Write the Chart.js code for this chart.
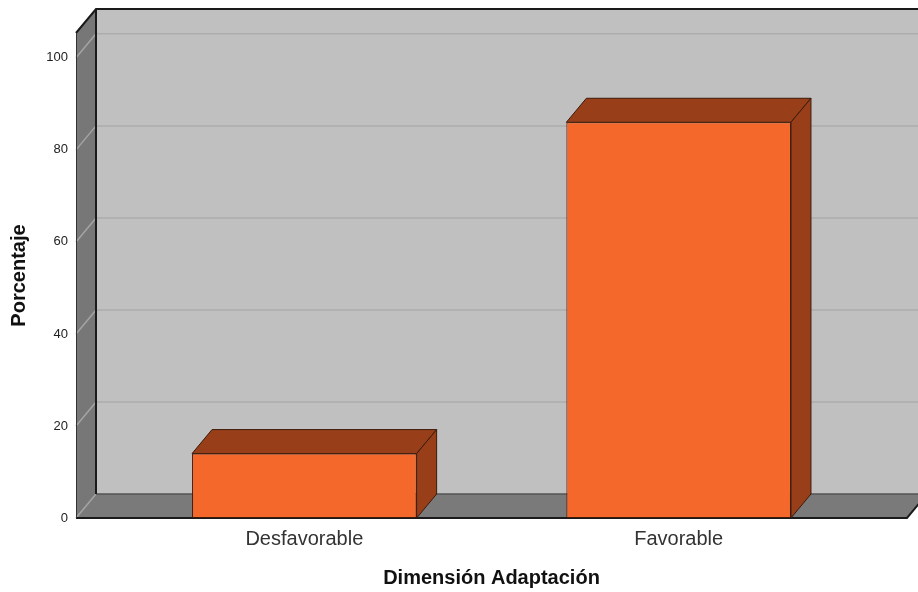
<!DOCTYPE html>
<html>
<head>
<meta charset="utf-8">
<script src="https://cdn.jsdelivr.net/npm/chart.js@4.4.0/dist/chart.umd.min.js"></script>
<style>
html, body { margin: 0; padding: 0; background: #fff; }
#wrap { width: 918px; height: 592px; }
</style>
</head>
<body>
<div id="wrap"><canvas id="chart"></canvas></div>
<script>
const categories = ["Desfavorable", "Favorable"];
const porcentaje = [14.0, 86.0];
const yTicks = [0, 20, 40, 60, 80, 100];
const yMax = 105.4;

// depth of the fake 3d box
const DX = 20, DY = -24;

const box3d = {
    id: "box3d",
    beforeDatasetsDraw(chart) {
        const {ctx, chartArea: {left, right, top, bottom}, scales: {y}} = chart;
        ctx.save();
        // back wall
        ctx.fillStyle = "#c0c0c0";
        ctx.fillRect(left + DX, top + DY, right - left, bottom - top);
        // left side wall
        ctx.fillStyle = "#777777";
        ctx.beginPath();
        ctx.moveTo(left, top);
        ctx.lineTo(left + DX, top + DY);
        ctx.lineTo(left + DX, bottom + DY);
        ctx.lineTo(left, bottom);
        ctx.closePath();
        ctx.fill();
        // floor
        ctx.fillStyle = "#7a7a7a";
        ctx.beginPath();
        ctx.moveTo(left, bottom);
        ctx.lineTo(right, bottom);
        ctx.lineTo(right + DX, bottom + DY);
        ctx.lineTo(left + DX, bottom + DY);
        ctx.closePath();
        ctx.fill();

        // grid lines on side + back
        ctx.lineWidth = 1.5;
        yTicks.forEach(v => {
            const py = y.getPixelForValue(v);
            ctx.strokeStyle = "#a4a4a4";
            ctx.beginPath();
            ctx.moveTo(left, py);
            ctx.lineTo(left + DX, py + DY);
            ctx.stroke();
            if (v > 0) {
                ctx.strokeStyle = "#adadad";
                ctx.beginPath();
                ctx.moveTo(left + DX, py + DY);
                ctx.lineTo(right + DX, py + DY);
                ctx.stroke();
            }
        });

        // edges
        ctx.strokeStyle = "#555";
        ctx.lineWidth = 1.5;
        ctx.beginPath();
        ctx.moveTo(left + DX, bottom + DY);
        ctx.lineTo(right + DX, bottom + DY);
        ctx.stroke();

        ctx.strokeStyle = "#1a1a1a";
        ctx.lineWidth = 2;
        ctx.beginPath();
        ctx.moveTo(left, top);
        ctx.lineTo(left + DX, top + DY);
        ctx.lineTo(right + DX, top + DY);
        ctx.moveTo(left + DX, top + DY);
        ctx.lineTo(left + DX, bottom + DY);
        ctx.moveTo(left, bottom);
        ctx.lineTo(right, bottom);
        ctx.lineTo(right + DX, bottom + DY);
        ctx.stroke();

        ctx.strokeStyle = "#333";
        ctx.lineWidth = 1;
        ctx.beginPath();
        ctx.moveTo(left + 0.5, top);
        ctx.lineTo(left + 0.5, bottom);
        ctx.stroke();
        ctx.restore();
    },
    afterDatasetsDraw(chart) {
        const {ctx} = chart;
        ctx.save();
        ctx.fillStyle = "#983f1a";
        ctx.strokeStyle = "#3b1a0a";
        ctx.lineWidth = 1;
        chart.getDatasetMeta(0).data.forEach(bar => {
            const l = bar.x - bar.width / 2, r = bar.x + bar.width / 2;
            const t = bar.y, b = bar.base;
            ctx.beginPath();
            ctx.moveTo(l, t);
            ctx.lineTo(l + DX, t + DY);
            ctx.lineTo(r + DX, t + DY);
            ctx.lineTo(r, t);
            ctx.closePath();
            ctx.fill();
            ctx.stroke();
            ctx.beginPath();
            ctx.moveTo(r, t);
            ctx.lineTo(r + DX, t + DY);
            ctx.lineTo(r + DX, b + DY);
            ctx.lineTo(r, b);
            ctx.closePath();
            ctx.fill();
            ctx.stroke();
        });
        ctx.restore();
    }
};

new Chart(document.getElementById("chart").getContext("2d"), {
    type: "bar",
    data: {
        datasets: [{
            data: porcentaje.map((v, i) => ({x: i, y: v})),
            backgroundColor: "#f4682c",
            borderColor: "#3b1a0a",
            borderWidth: 1,
            borderSkipped: false,
            barPercentage: 0.6,
            categoryPercentage: 1.0
        }]
    },
    options: {
        responsive: true,
        maintainAspectRatio: false,
        animation: false,
        layout: {padding: {top: 33, right: 11, left: 0, bottom: 0}},
        plugins: {legend: {display: false}, tooltip: {enabled: false}},
        scales: {
            x: {
                type: "linear",
                offset: false,
                min: -0.61,
                max: 1.61,
                grid: {display: false, drawTicks: false},
                border: {display: false},
                afterBuildTicks: s => { s.ticks = categories.map((c, i) => ({value: i})); },
                afterFit: s => { s.height = 74; },
                ticks: {
                    autoSkip: false,
                    maxRotation: 0,
                    padding: 9,
                    color: "#333",
                    font: {family: "Liberation Sans", size: 20},
                    callback: v => categories[v]
                },
                title: {
                    display: true,
                    text: "Dimensión Adaptación",
                    color: "#111",
                    font: {family: "Liberation Sans", size: 20, weight: "bold"},
                    padding: {top: 0, bottom: 2}
                }
            },
            y: {
                min: 0,
                max: yMax,
                grid: {display: false, drawTicks: false},
                border: {display: false},
                afterBuildTicks: s => { s.ticks = yTicks.map(v => ({value: v})); },
                afterFit: s => { s.width = 76; },
                ticks: {
                    padding: 8,
                    color: "#222",
                    font: {family: "Liberation Sans", size: 13}
                },
                title: {
                    display: true,
                    text: "Porcentaje",
                    color: "#111",
                    font: {family: "Liberation Sans", size: 20, weight: "bold"},
                    padding: {top: 7, bottom: 0}
                }
            }
        }
    },
    plugins: [box3d]
});
</script>
</body>
</html>
